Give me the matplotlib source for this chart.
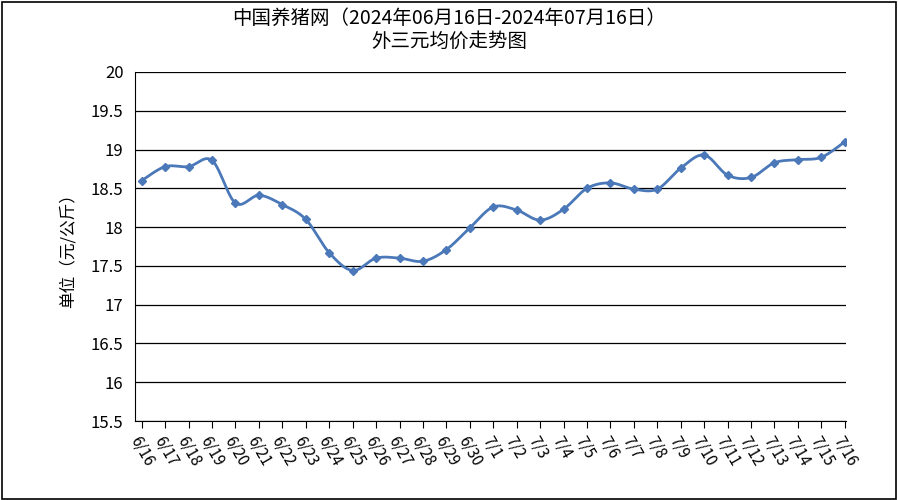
import matplotlib
matplotlib.use("Agg")
import matplotlib.pyplot as plt
from matplotlib.patches import Rectangle
import numpy as np

plt.rcParams['font.family'] = ['Noto Sans CJK SC', 'DejaVu Sans']

dates = ["6/16", "6/17", "6/18", "6/19", "6/20", "6/21", "6/22", "6/23", "6/24", "6/25",
         "6/26", "6/27", "6/28", "6/29", "6/30", "7/1", "7/2", "7/3", "7/4", "7/5",
         "7/6", "7/7", "7/8", "7/9", "7/10", "7/11", "7/12", "7/13", "7/14", "7/15", "7/16"]
prices = [18.60, 18.78, 18.78, 18.86, 18.31, 18.41, 18.29, 18.10, 17.67, 17.44,
          17.60, 17.60, 17.56, 17.71, 17.99, 18.26, 18.22, 18.09, 18.23, 18.50,
          18.57, 18.49, 18.49, 18.76, 18.93, 18.67, 18.64, 18.83, 18.87, 18.90, 19.10]


def catmull_rom(x, y, n=20):
    # smooth drawing path through the points
    px = np.concatenate([[x[0]], x, [x[-1]]])
    py = np.concatenate([[y[0]], y, [y[-1]]])
    xs, ys = [], []
    t = np.linspace(0, 1, n, endpoint=False)
    for i in range(1, len(px) - 2):
        for p, out in ((px, xs), (py, ys)):
            p0, p1, p2, p3 = p[i - 1], p[i], p[i + 1], p[i + 2]
            out.extend(0.5 * (2 * p1 + (-p0 + p2) * t + (2 * p0 - 5 * p1 + 4 * p2 - p3) * t ** 2
                              + (-p0 + 3 * p1 - 3 * p2 + p3) * t ** 3))
    xs.append(x[-1]); ys.append(y[-1])
    return np.array(xs), np.array(ys)


x = np.arange(len(dates), dtype=float)
y = np.array(prices)
sx, sy = catmull_rom(x, y)

fig = plt.figure(figsize=(8.98, 5.0), dpi=100)
fig.patches.append(Rectangle((0.002, 0.003), 0.996, 0.994, transform=fig.transFigure,
                             fill=False, ec="black", lw=1.2))
ax = fig.add_axes([0.150, 0.158, 0.792, 0.698])
ax.plot(sx, sy, color="#4a78b8", lw=2.0)
ax.plot(x, y, ls="none", marker="D", ms=4.5, color="#4a78b8")

ax.set_ylim(15.5, 20)
ax.set_yticks(np.arange(15.5, 20.01, 0.5))
ax.set_yticklabels([f"{v:g}" for v in np.arange(15.5, 20.01, 0.5)], fontsize=12)
ax.set_xlim(-0.3, 30.05)
ax.set_xticks(x)
ax.set_xticklabels(dates, rotation=-60, ha="left", va="top", fontsize=11, rotation_mode="anchor")
ax.grid(axis="y", color="black", lw=0.9)
for s in ["top", "right"]:
    ax.spines[s].set_visible(False)
ax.tick_params(axis="y", length=0, pad=8)
ax.tick_params(axis="x", length=5)
ax.set_ylabel("单位（元/公斤）", fontsize=12, labelpad=10)
fig.suptitle("中国养猪网（2024年06月16日-2024年07月16日）\n外三元均价走势图", fontsize=14, y=0.985, linespacing=1.15)
fig.savefig("out.png", dpi=100)
